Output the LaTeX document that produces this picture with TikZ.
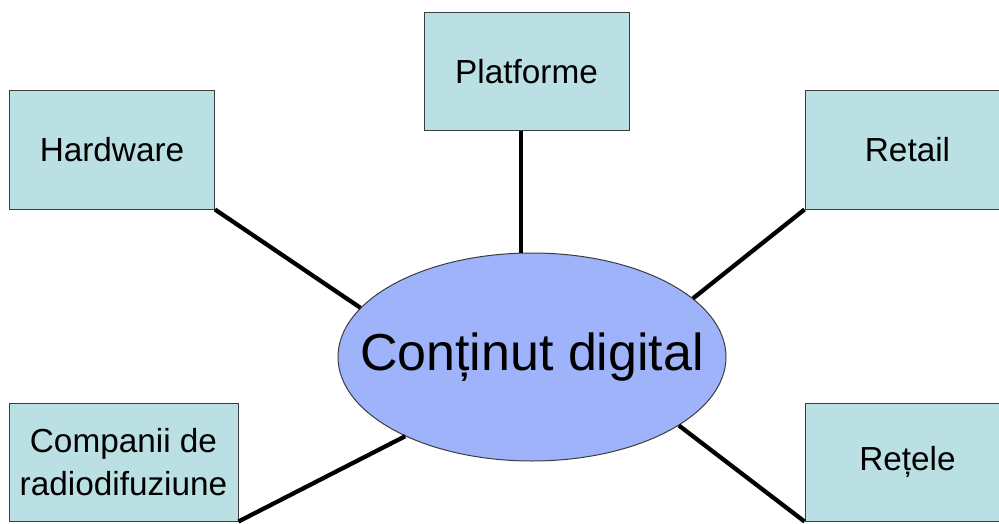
\documentclass[tikz,border=0pt]{standalone}
\usepackage{fontspec}
\setmainfont{Liberation Sans}
\usepackage{tikz}
\usetikzlibrary{shapes.geometric}
\definecolor{boxfill}{RGB}{186,224,228}
\definecolor{ovalfill}{RGB}{158,179,250}
\definecolor{edge}{RGB}{60,60,60}
\tikzstyle{topic}=[rectangle, draw=edge, line width=0.75pt, fill=boxfill, minimum width=153.75pt, minimum height=88.5pt, inner sep=0pt, align=center, font=\fontsize{25}{32}\selectfont]
\tikzstyle{hub}=[ellipse, draw=edge, line width=0.75pt, fill=ovalfill, minimum width=291pt, minimum height=156pt, inner xsep=-27pt, inner ysep=0pt, font=\fontsize{39}{44}\selectfont]
\tikzstyle{link}=[line width=3.2pt, color=black]

\begin{document}
\begin{tikzpicture}[x=0.75pt, y=-0.75pt]
\useasboundingbox (0,0) rectangle (999,524);
\clip (0,0) rectangle (999,524);

\node[hub] (cont) at (532,357) {Conținut digital};

\node[topic] (plat) at (526.5,71.5) {Platforme};
\node[topic] (hard) at (112,150) {Hardware};
\node[topic] (retail) at (907.5,150) {Retail};
\node[topic, minimum width=171.75pt] (comp) at (123.5,462) {Companii de\\radiodifuziune};
\node[topic] (retele) at (907.5,462) {Rețele};

\draw[link] (cont.96) -- (cont.96 |- plat.south);
\draw[link] (hard.south east) -- (cont.164.6);
\draw[link] (retail.south west) -- (cont.20.2);
\draw[link] (comp.south east) -- (cont.212.2);
\draw[link] (cont.335) -- (retele.south west);
\end{tikzpicture}
\end{document}
